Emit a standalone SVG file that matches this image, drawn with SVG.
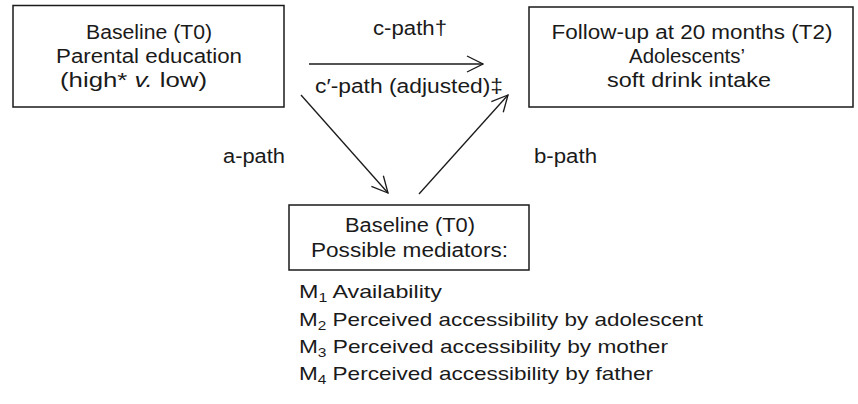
<svg xmlns="http://www.w3.org/2000/svg" width="858" height="404" viewBox="0 0 858 404">
<style>
text{font-family:"Liberation Sans",Arial,sans-serif;font-size:20px;fill:#1a1a1a}
.c{text-anchor:middle}
.s{text-anchor:start}
.m{font-size:19px}
.box{fill:#fff;stroke:#1a1a1a;stroke-width:1.5}
.ln{fill:none;stroke:#1a1a1a;stroke-width:1.3}
.sub{font-size:13px}
</style>
<defs>
<marker id="ah" viewBox="0 0 20 20" refX="19" refY="10" markerWidth="20" markerHeight="20" markerUnits="userSpaceOnUse" orient="auto">
<path d="M3,2 L19,10 L3,18" fill="none" stroke="#1a1a1a" stroke-width="1.3"/>
</marker>
</defs>
<rect width="858" height="404" fill="#fff"/>
<g id="node-parental">
<rect class="box" x="13" y="5.5" width="271" height="101.5"/>
<text class="c" x="149" y="39" textLength="126" lengthAdjust="spacingAndGlyphs">Baseline (T0)</text>
<text class="c" x="149" y="63" textLength="186" lengthAdjust="spacingAndGlyphs">Parental education</text>
<text class="s" x="60" y="87" textLength="147" lengthAdjust="spacingAndGlyphs">(high* <tspan font-style="italic">v.</tspan> low)</text>
</g>
<g id="node-outcome">
<rect class="box" x="529" y="7" width="324" height="100"/>
<text class="c" x="692" y="39" textLength="281" lengthAdjust="spacingAndGlyphs">Follow-up at 20 months (T2)</text>
<text class="c" x="687" y="63" textLength="116" lengthAdjust="spacingAndGlyphs">Adolescents’</text>
<text class="c" x="689" y="87" textLength="164" lengthAdjust="spacingAndGlyphs">soft drink intake</text>
</g>
<g id="node-mediators">
<rect class="box" x="289" y="205" width="240" height="65"/>
<text class="c" x="410" y="232" textLength="130" lengthAdjust="spacingAndGlyphs">Baseline (T0)</text>
<text class="c" x="409.5" y="257" textLength="197" lengthAdjust="spacingAndGlyphs">Possible mediators:</text>
<text class="m" x="299" y="298" textLength="143" lengthAdjust="spacingAndGlyphs">M<tspan class="sub" dy="4">1</tspan><tspan dy="-4"> Availability</tspan></text>
<text class="m" x="299" y="326" textLength="404" lengthAdjust="spacingAndGlyphs">M<tspan class="sub" dy="4">2</tspan><tspan dy="-4"> Perceived accessibility by adolescent</tspan></text>
<text class="m" x="299" y="353" textLength="369" lengthAdjust="spacingAndGlyphs">M<tspan class="sub" dy="4">3</tspan><tspan dy="-4"> Perceived accessibility by mother</tspan></text>
<text class="m" x="299" y="380" textLength="354" lengthAdjust="spacingAndGlyphs">M<tspan class="sub" dy="4">4</tspan><tspan dy="-4"> Perceived accessibility by father</tspan></text>
</g>
<g id="connectors">
<line class="ln" x1="309" y1="64" x2="483" y2="64" marker-end="url(#ah)"/>
<line class="ln" x1="301" y1="95" x2="388" y2="193" marker-end="url(#ah)"/>
<line class="ln" x1="419" y1="194" x2="508" y2="95" marker-end="url(#ah)"/>
<text class="c" x="410" y="35" textLength="74" lengthAdjust="spacingAndGlyphs">c-path†</text>
<text class="c" x="409" y="93" textLength="188" lengthAdjust="spacingAndGlyphs">c′-path (adjusted)‡</text>
<text class="c" x="254" y="163" textLength="62" lengthAdjust="spacingAndGlyphs">a-path</text>
<text class="c" x="565.5" y="163" textLength="63" lengthAdjust="spacingAndGlyphs">b-path</text>
</g>
</svg>
